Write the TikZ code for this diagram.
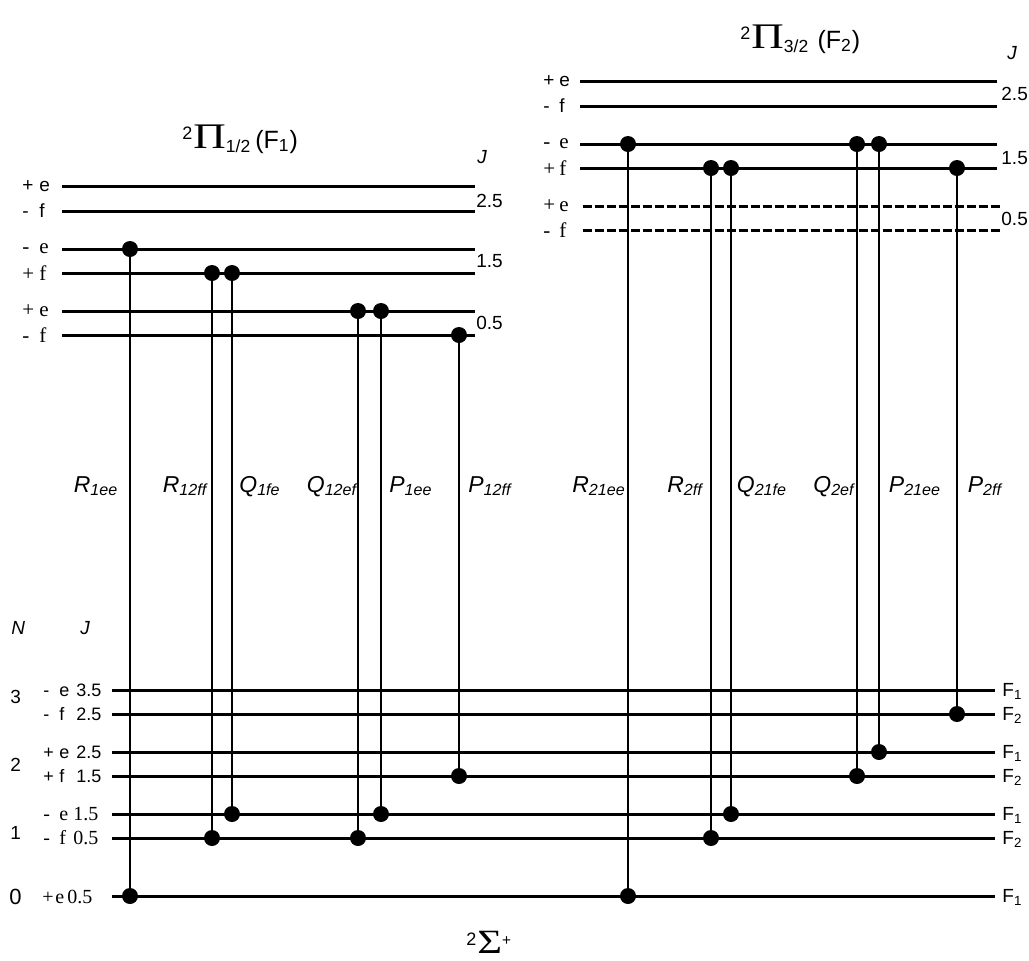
\documentclass[tikz,border=0pt]{standalone}
\usepackage{fontspec}
\setmainfont{Liberation Sans}
\newfontfamily\tms{Liberation Serif}
\newfontfamily\tmswide[FakeStretch=1.25]{Liberation Serif}
% level label: sign, parity, J value
\newcommand{\lowlab}[3]{\makebox[8pt][l]{#1}\makebox[7pt][l]{#2}\makebox[14pt][r]{#3}}
\newcommand{\lowlabr}[3]{\makebox[8pt][l]{#1}\makebox[6.5pt][l]{#2}\makebox[13pt][r]{#3}}
\newcommand{\supr}[1]{\textsuperscript{\fontsize{9}{9}\selectfont #1}}

\begin{document}
\begin{tikzpicture}[x=0.5pt, y=-0.5pt,
  lvl/.style={line width=1.5pt},
  dlvl/.style={line width=1.5pt, dash pattern=on 4.5pt off 1.5pt},
  trans/.style={line width=1.2pt},
  dot/.style={circle, fill=black, inner sep=0pt, minimum size=8pt},
  sl/.style={anchor=west, inner sep=0pt, font=\fontsize{9.5}{10}\selectfont},
  rl/.style={anchor=west, inner sep=0pt, font=\tms\fontsize{10.5}{11}\selectfont},
  jl/.style={anchor=west, inner sep=0pt, font=\itshape\fontsize{9.5}{10}\selectfont},
  br/.style={anchor=base, inner sep=0pt, font=\itshape\fontsize{11.5}{13}\selectfont},
  ttl/.style={anchor=base west, inner sep=0pt, font=\fontsize{12.5}{14}\selectfont}
]
  \useasboundingbox (0,0) rectangle (1029,960);

  % 2Pi 1/2 (F1)
  \node[ttl] (tA) at (182,148) {\supr{2}{\tmswide\fontsize{18}{18}\selectfont Π}\textsubscript{1/2}\,(F\textsubscript{1})};
  \foreach \n/\y/\s/\l/\f in {a1/186/+/e/sl, a2/211/-/f/sl, a3/249/-/e/rl,
                             a4/273/+/f/rl, a5/311/+/e/rl, a6/335/-/f/rl} {
    \draw[lvl] (62,\y) coordinate (\n) -- (475,\y) coordinate (\n r);
    \node[\f] (\n t) at (22,\y) {\makebox[8.5pt][l]{\s}\l};
  }
  \node[jl] (jA) at (477,157) {J};
  \node[sl] (vA1) at (476,201) {2.5};
  \node[sl] (vA2) at (476,261) {1.5};
  \node[sl] (vA3) at (476,323) {0.5};

  % 2Pi 3/2 (F2)
  \node[ttl] (tB) at (740,48) {\supr{2}{\tmswide\fontsize{18}{18}\selectfont Π}\textsubscript{3/2}\,\,(F\textsubscript{2})};
  \foreach \n/\y/\s/\l/\f in {b1/81/+/e/sl, b2/106/-/f/sl, b3/144/-/e/rl, b4/168/+/f/rl} {
    \draw[lvl] (580,\y) coordinate (\n) -- (997,\y) coordinate (\n r);
    \node[\f] (\n t) at (543,\y) {\makebox[8pt][l]{\s}\l};
  }
  \foreach \n/\y/\s/\l in {b5/206/+/e, b6/230/-/f} {
    \draw[dlvl] (583,\y) coordinate (\n) -- (1000,\y) coordinate (\n r);
    \node[rl] (\n t) at (543,\y) {\makebox[8pt][l]{\s}\l};
  }
  \node[jl] (jB) at (1007,53) {J};
  \node[sl] (vB1) at (1001,94) {2.5};
  \node[sl] (vB2) at (1001,158) {1.5};
  \node[sl] (vB3) at (1001,219) {0.5};

  % 2Sigma+
  \foreach \n/\y/\s/\l/\v/\F in {x1/690/-/e/3.5/1, x2/714/-/f/2.5/2,
                                 x3/752/+/e/2.5/1, x4/776/+/f/1.5/2} {
    \draw[lvl] (112,\y) coordinate (\n) -- (995,\y) coordinate (\n r);
    \node[sl, font=\fontsize{9}{10}\selectfont] (\n t) at (43,\y) {\lowlab{\s}{\l}{\v}};
    \node[sl] (\n F) at (1002,\y+1) {F\textsubscript{\F}};
  }
  \foreach \n/\y/\s/\l/\v/\F in {x5/814/-/e/1.5/1, x6/838/-/f/0.5/2} {
    \draw[lvl] (112,\y) coordinate (\n) -- (995,\y) coordinate (\n r);
    \node[rl, font=\tms\fontsize{10}{11}\selectfont] (\n t) at (43,\y) {\lowlabr{\s}{\l}{\v}};
    \node[sl] (\n F) at (1002,\y+1) {F\textsubscript{\F}};
  }
  \draw[lvl] (112,896) coordinate (x7) -- (995,896) coordinate (x7r);
  \node[rl, font=\tms\fontsize{10}{11}\selectfont] (x7t) at (42,897) {\makebox[6.5pt][l]{+}\makebox[6pt][l]{e}\makebox[12.5pt][r]{0.5}};
  \node[sl] (x7F) at (1002,897) {F\textsubscript{1}};
  \node[ttl, font=\fontsize{11}{12}\selectfont] (tS) at (466,953) {\supr{2}{\tmswide\fontsize{17}{18}\selectfont Σ}\textsuperscript{+}};

  \node[jl] (nN) at (11,628) {N};
  \node[jl] (nJ) at (80,628) {J};
  \foreach \y/\v in {697/3, 765/2, 833/1}
    \node[sl] (N\v) at (10,\y) {\v};
  \node[sl, font=\fontsize{11}{12}\selectfont] (N0) at (9,897) {0};

  % transitions
  \foreach \x/\up/\lo in {130/a3/x7, 212/a4/x6, 232/a4/x5, 358/a5/x6, 381/a5/x5, 459/a6/x4,
                          628/b3/x7, 711/b4/x6, 731/b4/x5, 857/b3/x4, 879/b3/x3, 957/b4/x2} {
    \coordinate (c\x) at (\x,0);
    \draw[trans] (c\x |- \up) -- (c\x |- \lo);
    \node[dot] (u\x) at (c\x |- \up) {};
    \node[dot] (d\x) at (c\x |- \lo) {};
  }
  \foreach \x/\t [count=\i] in {96/R\textsubscript{1ee}, 185/R\textsubscript{12ff},
      260/Q\textsubscript{1fe}, 332/Q\textsubscript{12ef}, 411/P\textsubscript{1ee},
      490/P\textsubscript{12ff}, 599/R\textsubscript{21ee}, 685/R\textsubscript{2ff},
      762/Q\textsubscript{21fe}, 834/Q\textsubscript{2ef}, 915/P\textsubscript{21ee},
      985/P\textsubscript{2ff}}
    \node[br] (lbl\i) at (\x,492) {\t};
\end{tikzpicture}
\end{document}
